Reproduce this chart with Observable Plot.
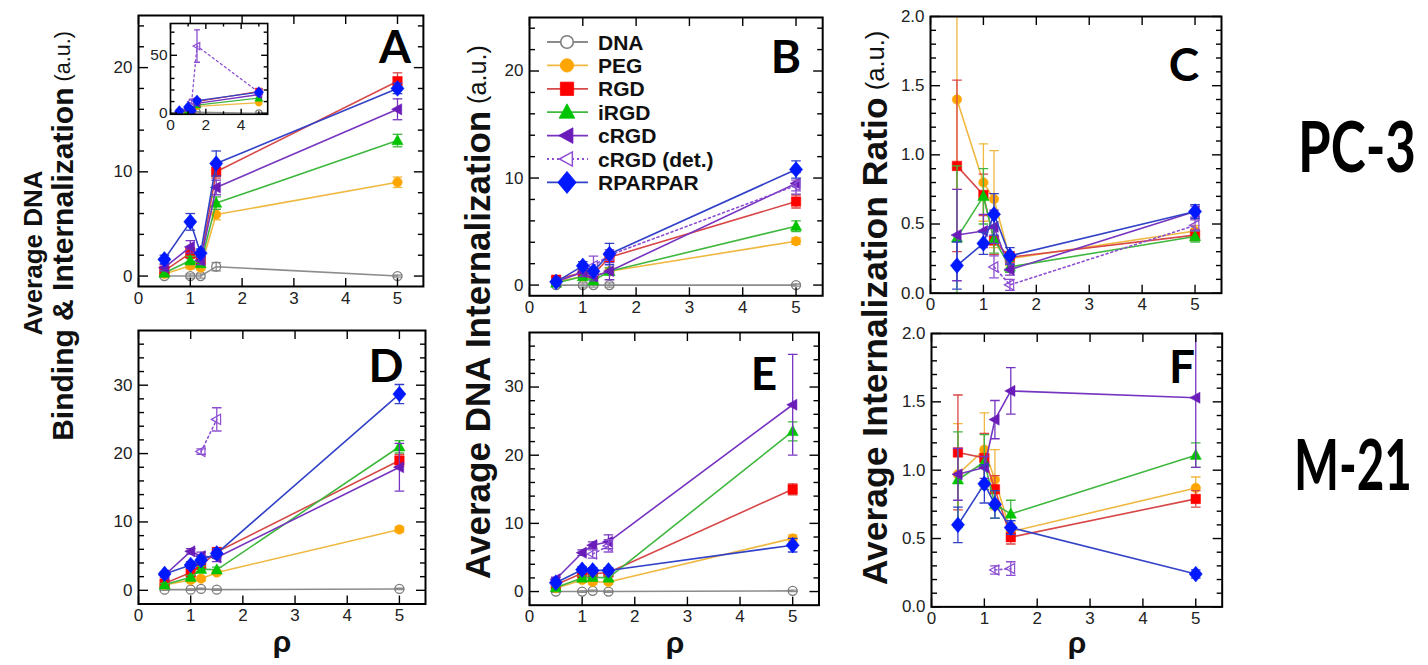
<!DOCTYPE html>
<html><head><meta charset="utf-8">
<script src="https://cdn.jsdelivr.net/npm/d3@7"></script>
<script src="https://cdn.jsdelivr.net/npm/@observablehq/plot@0.6"></script>
<style>
body{margin:0;background:#fff;}
#root{position:relative;width:1428px;height:665px;overflow:hidden;background:#fff;font-family:"Liberation Sans",Arial,sans-serif;}
#root svg{position:absolute;overflow:visible;}
</style></head><body><div id="root"></div>
<script>
// ---------------- data ----------------
const rho = [0.5, 1, 1.2, 1.5, 5];
const seriesNames = ["DNA", "PEG", "RGD", "iRGD", "cRGD", "cRGD (det.)", "RPARPAR"];
const xTickLabels = [0, 1, 2, 3, 4, 5];

// Panel A (PC-3, binding & internalization); rows follow seriesNames
const A_mean = [
  [0, 0, 0, 0.9, 0],
  [0.2, 1.0, 0.8, 5.9, 9.0],
  [0.5, 2.2, 1.5, 10.0, 18.7],
  [0.3, 1.5, 1.2, 7.0, 13.0],
  [0.8, 2.8, 1.5, 8.5, 16.0],
  null,
  [1.6, 5.2, 2.2, 10.8, 18.0]
];
const A_err = [
  [0.1, 0.2, 0.2, 0.4, 0.1],
  [0.2, 0.3, 0.2, 0.5, 0.5],
  [0.2, 0.5, 0.3, 0.6, 0.8],
  [0.2, 0.4, 0.3, 0.6, 0.6],
  [0.3, 0.6, 0.4, 0.7, 1.0],
  null,
  [0.4, 0.8, 0.4, 1.2, 0.5]
];
// inset of A: cRGD (det.)
const Ainset_det_mean = [null, null, 10, 58, 18];
const Ainset_det_err = [null, null, 2, 14, 2];

// Panel B (PC-3, internalization)
const B_mean = [
  [0, 0, 0, 0, 0],
  [0.3, 0.8, 0.8, 1.3, 4.1],
  [0.5, 1.2, 1.0, 2.6, 7.8],
  [0.2, 0.8, 0.4, 1.3, 5.5],
  [0.3, 1.2, 0.8, 1.3, 9.5],
  [null, null, 1.8, 2.8, 9.3],
  [0.3, 1.8, 1.3, 2.9, 10.8]
];
const B_err = [
  [0.1, 0.2, 0.2, 0.2, 0.1],
  [0.1, 0.3, 0.2, 0.3, 0.3],
  [0.2, 0.3, 0.3, 0.4, 0.6],
  [0.1, 0.3, 0.2, 0.3, 0.5],
  [0.1, 0.4, 0.4, 0.8, 1.0],
  [null, null, 0.9, 0.5, 0.5],
  [0.2, 0.4, 0.3, 1.0, 0.8]
];

// Panel C (PC-3, internalization ratio)
const C_mean = [
  null,
  [1.40, 0.80, 0.68, 0.25, 0.45],
  [0.92, 0.71, 0.38, 0.26, 0.42],
  [0.40, 0.70, 0.39, 0.19, 0.41],
  [0.42, 0.45, 0.48, 0.17, 0.59],
  [null, null, 0.19, 0.06, 0.49],
  [0.20, 0.36, 0.57, 0.27, 0.59]
];
const C_err = [
  null,
  [0.65, 0.28, 0.35, 0.05, 0.04],
  [0.62, 0.15, 0.10, 0.04, 0.04],
  [0.52, 0.20, 0.10, 0.04, 0.04],
  [0.33, 0.12, 0.12, 0.04, 0.04],
  [null, null, 0.08, 0.04, 0.04],
  [0.17, 0.08, 0.15, 0.06, 0.05]
];

// Panel D (M-21, binding & internalization)
const D_mean = [
  [0.1, 0.1, 0.2, 0.1, 0.2],
  [0.8, 1.5, 1.7, 2.6, 8.9],
  [1.0, 2.6, 3.7, 5.6, 19.0],
  [0.8, 1.9, 3.1, 3.0, 21.0],
  [2.2, 5.7, 5.0, 4.8, 18.0],
  [null, null, 20.3, 25.0, null],
  [2.4, 3.7, 4.4, 5.4, 28.7]
];
const D_err = [
  [0.1, 0.1, 0.1, 0.1, 0.1],
  [0.2, 0.3, 0.3, 0.3, 0.4],
  [0.3, 0.4, 0.5, 0.6, 0.9],
  [0.2, 0.3, 0.4, 0.4, 0.9],
  [0.3, 0.4, 0.6, 0.6, 3.5],
  [null, null, 0.4, 1.7, null],
  [0.3, 0.5, 0.6, 0.7, 1.4]
];

// Panel E (M-21, internalization)
const E_mean = [
  [0, 0, 0.1, 0, 0.1],
  [0.5, 1.7, 1.4, 1.4, 7.8],
  [1.0, 2.7, 2.6, 2.8, 15.0],
  [0.6, 2.0, 2.1, 2.0, 23.5],
  [1.8, 5.7, 6.8, 7.3, 27.4],
  [null, null, 5.5, 6.7, null],
  [1.3, 3.2, 3.1, 3.1, 6.8]
];
const E_err = [
  [0.1, 0.1, 0.1, 0.1, 0.1],
  [0.2, 0.3, 0.3, 0.3, 0.5],
  [0.2, 0.3, 0.3, 0.3, 0.8],
  [0.2, 0.3, 0.3, 0.3, 1.4],
  [0.3, 0.4, 0.5, 1.0, 7.4],
  [null, null, 0.6, 0.9, null],
  [0.3, 0.4, 0.4, 0.4, 1.0]
];

// Panel F (M-21, internalization ratio)
const F_mean = [
  null,
  [0.97, 1.15, 0.93, 0.55, 0.87],
  [1.13, 1.09, 0.86, 0.51, 0.79],
  [0.93, 1.06, 0.75, 0.68, 1.11],
  [0.97, 1.02, 1.37, 1.58, 1.53],
  [null, null, 0.27, 0.28, null],
  [0.60, 0.90, 0.75, 0.58, 0.24]
];
const F_err = [
  null,
  [0.37, 0.27, 0.22, 0.06, 0.08],
  [0.42, 0.18, 0.10, 0.05, 0.06],
  [0.35, 0.20, 0.10, 0.10, 0.09],
  [0.19, 0.08, 0.14, 0.17, 0.51],
  [null, null, 0.03, 0.05, null],
  [0.13, 0.14, 0.10, 0.05, 0.03]
];

// ---------------- symbols & styles ----------------
const R = s => Math.sqrt(s / Math.PI);
const sqSym = {draw(c, s) { const r = R(s) * 0.95; c.rect(-r, -r, 2 * r, 2 * r); }};
const triUp = {draw(c, s) { const r = R(s); c.moveTo(0, -1.2 * r); c.lineTo(1.12 * r, 0.85 * r); c.lineTo(-1.12 * r, 0.85 * r); c.closePath(); }};
const triLeft = {draw(c, s) { const r = R(s); c.moveTo(-1.2 * r, 0); c.lineTo(0.85 * r, -1.12 * r); c.lineTo(0.85 * r, 1.12 * r); c.closePath(); }};
const diaSym = {draw(c, s) { const r = R(s); c.moveTo(0, -1.5 * r); c.lineTo(1.25 * r, 0); c.lineTo(0, 1.5 * r); c.lineTo(-1.25 * r, 0); c.closePath(); }};
const capSym = {draw(c, s) { const r = R(s); c.moveTo(-r, 0); c.lineTo(r, 0); }};

const styles = [
  {line: "#8c8c8c", err: "#8c8c8c", sym: d3.symbolCircle, fill: "none", stroke: "#7c7c7c", sw: 1.3, k: 0.9},
  {line: "#efb840", err: "#efb840", sym: d3.symbolCircle, fill: "#ffa500", stroke: "#ffa500", sw: 0.5, k: 0.95},
  {line: "#d84848", err: "#d84848", sym: sqSym, fill: "#ff0000", stroke: "#ff0000", sw: 0.5, k: 1},
  {line: "#40b840", err: "#40b840", sym: triUp, fill: "#00c400", stroke: "#00c400", sw: 0.5, k: 1},
  {line: "#7634c0", err: "#7634c0", sym: triLeft, fill: "#6a1cb8", stroke: "#6a1cb8", sw: 0.5, k: 1},
  {line: "#8d4fd2", err: "#8d4fd2", sym: triLeft, fill: "none", stroke: "#8d4fd2", sw: 1.2, k: 0.9, dash: "2,3"},
  {line: "#3242c8", err: "#3242c8", sym: diaSym, fill: "#0018ff", stroke: "#0018ff", sw: 0.5, k: 1.05}
];

const range = (a, b, s) => d3.range(Math.round((b - a) / s) + 1).map(i => +(a + i * s).toFixed(4));

const root = document.getElementById("root");

function makePanel(cfg) {
  const {mean, err, frame: [L, Rr, T, B], yDomain, yMajor, yMinor, yFmt = d => String(d),
    xMajor = xTickLabels, xLabelTicks = xTickLabels, r = 5, capR = 4.8, fontSize = 17,
    majorLen = 9, minorLen = 5, frameWidth = 2, lineWidth = 1.6, extraSeries = [], fillFrame = false} = cfg;
  const ml = cfg.ml ?? 50, mr = cfg.mr ?? 14, mt = cfg.mt ?? 8, mb = cfg.mb ?? 36;
  const width = (Rr - L) + ml + mr, height = (B - T) + mt + mb;
  const marks = [];
  if (fillFrame) marks.push(Plot.frame({fill: "white"}));
  const series = [];
  seriesNames.forEach((name, i) => {
    if (mean[i]) series.push({i, m: mean[i], e: err[i]});
  });
  extraSeries.forEach(s => series.push(s));
  series.sort((a, b) => a.i - b.i);
  series.forEach(({i, m, e}) => {
    const st = styles[i];
    const rows = rho.map((x, j) => ({x, y: m[j], e: e ? e[j] : 0})).filter(d => d.y != null);
    if (!rows.length) return;
    marks.push(Plot.line(rows, {x: "x", y: "y", stroke: st.line, strokeWidth: lineWidth, strokeDasharray: st.dash, clip: true}));
    const er = rows.filter(d => d.e > 0);
    marks.push(Plot.ruleX(er, {x: "x", y1: d => d.y - d.e, y2: d => d.y + d.e, stroke: st.err, strokeWidth: 1.3, clip: true}));
    marks.push(Plot.dot(er, {x: "x", y: d => d.y + d.e, symbol: capSym, r: capR, fill: "none", stroke: st.err, strokeWidth: 1.3, clip: true}));
    marks.push(Plot.dot(er, {x: "x", y: d => d.y - d.e, symbol: capSym, r: capR, fill: "none", stroke: st.err, strokeWidth: 1.3, clip: true}));
    marks.push(Plot.dot(rows, {x: "x", y: "y", symbol: st.sym, r: r * st.k, fill: st.fill, stroke: st.stroke, strokeWidth: st.sw, clip: true}));
  });
  const tickStyle = {stroke: "black", strokeWidth: 1.4, tickFormat: () => "", label: null};
  // inward tick marks on all four sides (ticks drawn from the frame edge toward the inside)
  const xT = (ticks, len) => [
    Plot.axisX({anchor: "top", frameAnchor: "bottom", ticks, tickSize: len, ...tickStyle}),
    Plot.axisX({anchor: "bottom", frameAnchor: "top", ticks, tickSize: len, ...tickStyle})
  ];
  const yT = (ticks, len) => [
    Plot.axisY({anchor: "right", frameAnchor: "left", ticks, tickSize: len, ...tickStyle}),
    Plot.axisY({anchor: "left", frameAnchor: "right", ticks, tickSize: len, ...tickStyle})
  ];
  marks.push(...xT(xMajor, majorLen));
  if (cfg.xMinor) marks.push(...xT(cfg.xMinor, minorLen));
  marks.push(...yT(yMajor, majorLen));
  marks.push(...yT(yMinor, minorLen));
  // tick labels
  marks.push(Plot.axisX({anchor: "bottom", ticks: xLabelTicks, tickSize: 0, tickPadding: cfg.xPad ?? 5, tickFormat: d => String(d), fontSize, fill: "#222", label: null}));
  marks.push(Plot.axisY({anchor: "left", ticks: yMajor, tickSize: 0, tickPadding: cfg.yPad ?? 6, tickFormat: yFmt, fontSize, fill: "#222", label: null}));
  marks.push(Plot.frame({stroke: "black", strokeWidth: frameWidth}));
  const svg = Plot.plot({
    width, height, marginLeft: ml, marginRight: mr, marginTop: mt, marginBottom: mb,
    x: {domain: cfg.xDomain ?? [0, 5.5], axis: null},
    y: {domain: yDomain, axis: null},
    style: {fontFamily: "'Liberation Sans', Arial, sans-serif", background: "transparent", overflow: "visible"},
    marks
  });
  svg.style.left = (L - ml) + "px";
  svg.style.top = (T - mt) + "px";
  root.appendChild(svg);
}

const yMaj25 = [0, 10, 20], yMin25 = range(2, 24, 2).filter(v => v % 10);
const yMaj38 = [0, 10, 20, 30], yMin38 = range(2, 36, 2).filter(v => v % 10);
const yMajR = [0, 0.5, 1.0, 1.5, 2.0], yMinR = range(0.1, 1.9, 0.1).filter(v => Math.abs(v * 2 - Math.round(v * 2)) > 1e-6);
const fmtR = d3.format(".1f");

makePanel({mean: A_mean, err: A_err, frame: [137.5, 422.4, 15, 286], yDomain: [-1, 25], yMajor: yMaj25, yMinor: yMin25});
makePanel({mean: B_mean, err: B_err, frame: [528.5, 821.7, 16.7, 295], yDomain: [-1, 25], yMajor: yMaj25, yMinor: yMin25});
makePanel({mean: C_mean, err: C_err, frame: [930, 1221, 16, 292.7], yDomain: [0, 2], yMajor: yMajR, yMinor: yMinR, yFmt: fmtR});
makePanel({mean: D_mean, err: D_err, frame: [138, 425, 330, 603.5], yDomain: [-2, 38], yMajor: yMaj38, yMinor: yMin38});
makePanel({mean: E_mean, err: E_err, frame: [529, 818.5, 332.3, 605], yDomain: [-2, 38], yMajor: yMaj38, yMinor: yMin38});
makePanel({mean: F_mean, err: F_err, frame: [931, 1221.7, 333.3, 606.7], yDomain: [0, 2], yMajor: yMajR, yMinor: yMinR, yFmt: fmtR});
// inset in A
makePanel({mean: A_mean, err: A_err, frame: [169.5, 266.7, 22.7, 113.5], yDomain: [-1, 77.5],
  yMajor: [0, 50], yMinor: [10, 20, 30, 40, 60, 70], xMajor: [0, 2, 4], xMinor: [1, 3, 5], xLabelTicks: [0, 2, 4],
  r: 3.6, capR: 3, fontSize: 15.5, majorLen: 6, minorLen: 3.5, frameWidth: 1.6, lineWidth: 1.3, fillFrame: true,
  ml: 26, mr: 4, mt: 4, mb: 24, xPad: 5, yPad: 3,
  extraSeries: [{i: 5, m: Ainset_det_mean, e: Ainset_det_err}]});

// ---------------- text overlay ----------------
const ov = d3.select(root).append("svg").attr("width", 1428).attr("height", 665)
  .style("left", "0px").style("top", "0px").style("pointer-events", "none");
const bold = "'Liberation Sans', Arial, sans-serif";
const calib = "Lato, 'Open Sans', sans-serif";

function vlabel(cx, cy, main, fs) {
  const t = ov.append("text").attr("transform", `translate(${cx},${cy}) rotate(-90)`)
    .attr("text-anchor", "middle").attr("dominant-baseline", "central")
    .attr("font-family", bold).attr("fill", "#111");
  t.append("tspan").attr("font-weight", "bold").attr("font-size", fs).text(main);
  return t;
}
function vlabelAU(cx, cy, main, fs) {
  const t = vlabel(cx, cy, main, fs);
  t.append("tspan").attr("font-size", fs * 0.72).attr("font-weight", "normal").text(" (a.u.)");
}
vlabel(33, 253, "Average DNA", 26);
vlabelAU(62, 236, "Binding & Internalization", 30);
vlabelAU(477, 312, "Average DNA Internalization", 35);
vlabelAU(875, 308, "Average Internalization Ratio", 35.5);

const letters = [["A", 395, 63], ["B", 786, 73], ["C", 1184, 81], ["D", 386, 382], ["E", 764, 390], ["F", 1182, 383]];
letters.forEach(([t, x, y]) => ov.append("text").attr("x", x).attr("y", y).attr("text-anchor", "middle")
  .attr("font-family", calib).attr("font-weight", "bold").attr("font-size", 46).attr("fill", "#000").text(t));

// cell-line names: horizontally condensed to fit their width in the figure
[["PC-3", 1298, 172], ["M-21", 1294, 490]].forEach(([t, x, y]) => {
  const g = ov.append("g");
  const txt = g.append("text").attr("x", 0).attr("y", 0)
    .attr("font-family", calib).attr("font-weight", "bold").attr("font-size", 70).attr("fill", "#000").text(t);
  const w = txt.node().getComputedTextLength() || 150;
  g.attr("transform", `translate(${x},${y}) scale(${118 / w},1)`);
});

[[282, 652], [675, 653], [1077, 653]].forEach(([x, y]) => ov.append("text").attr("x", x).attr("y", y)
  .attr("text-anchor", "middle").attr("font-family", bold).attr("font-weight", "bold").attr("font-size", 30).attr("fill", "#111").text("ρ"));

// legend (inside panel B)
seriesNames.forEach((name, i) => {
  const st = styles[i];
  const y = 42 + i * 23.4;
  ov.append("line").attr("x1", 547).attr("x2", 588).attr("y1", y).attr("y2", y)
    .attr("stroke", st.line).attr("stroke-width", 1.8).attr("stroke-dasharray", st.dash || null);
  const rr = 7 * st.k;
  ov.append("path").attr("d", d3.symbol(st.sym, Math.PI * rr * rr)())
    .attr("transform", `translate(567,${y})`).attr("fill", st.fill === "none" ? "white" : st.fill)
    .attr("stroke", st.stroke).attr("stroke-width", st.sw + 0.3);
  ov.append("text").attr("x", 598).attr("y", y).attr("dominant-baseline", "central")
    .attr("font-family", bold).attr("font-weight", "bold").attr("font-size", 21).attr("fill", "#111").text(name);
});
</script></body></html>
